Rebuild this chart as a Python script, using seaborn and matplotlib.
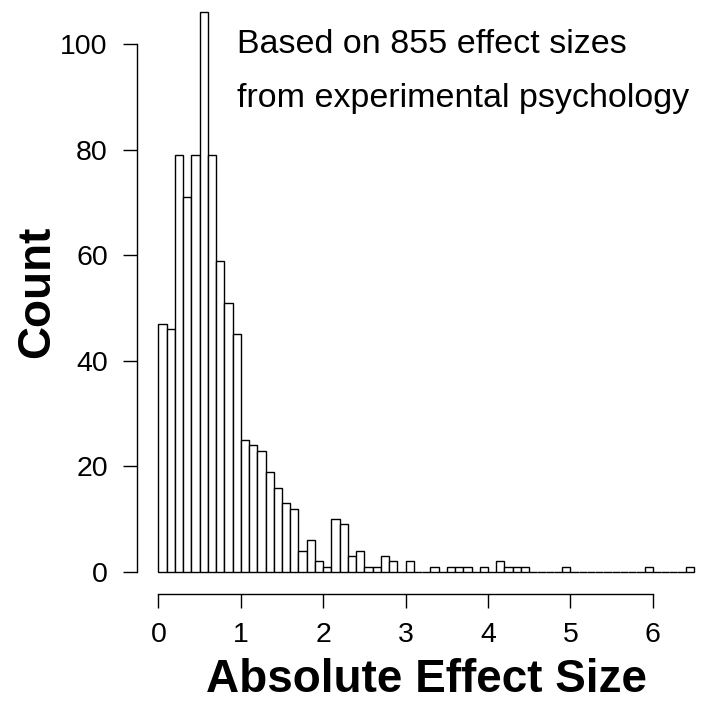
import numpy as np
import pandas as pd
import matplotlib
matplotlib.use("Agg")
import matplotlib.pyplot as plt
import seaborn as sns

# Histogram counts per 0.1-wide bin, from 0 to 6.5
counts = [47, 46, 79, 71, 79, 106, 79, 59, 51, 45,
          25, 24, 23, 19, 16, 13, 12, 4, 6, 2,
          1, 10, 9, 3, 4, 1, 1, 3, 2, 0,
          2, 0, 0, 1, 0, 1, 1, 1, 0, 1,
          0, 2, 1, 1, 1, 0, 0, 0, 0, 1,
          0, 0, 0, 0, 0, 0, 0, 0, 0, 1,
          0, 0, 0, 0, 1]
bin_width = 0.1
x_ticks = [0, 1, 2, 3, 4, 5, 6]
y_ticks = [0, 20, 40, 60, 80, 100]
annotation = ["Based on 855 effect sizes", "from experimental psychology"]

edges = np.round(np.arange(len(counts) + 1) * bin_width, 2)
centers = (edges[:-1] + edges[1:]) / 2
df = pd.DataFrame({"effect": centers, "n": np.array(counts, dtype=float)})

sns.set_style("white")
plt.rcParams["font.family"] = ["Liberation Sans", "DejaVu Sans"]
plt.rcParams["text.color"] = "black"
plt.rcParams["axes.labelcolor"] = "black"

W, H = 703, 704
fig = plt.figure(figsize=(W / 100, H / 100), dpi=100)
left_px, right_px, top_px, bottom_px = 137, 715.4, -10, 594.4
ax = fig.add_axes([left_px / W, (H - bottom_px) / H,
                   (right_px - left_px) / W, (bottom_px - top_px) / H])
ax.patch.set_alpha(0)

sns.histplot(data=df, x="effect", weights="n", bins=edges.tolist(), stat="count",
             color="white", edgecolor="black", linewidth=1.0, alpha=1,
             ax=ax)
for p in ax.patches:
    p.set_clip_on(False)

ax.set_xlim(-0.26, 6.76)
ax.set_ylim(-4.24, 110.24)

for s in ["top", "right"]:
    ax.spines[s].set_visible(False)
ax.spines["left"].set_bounds(0, 100)
ax.spines["bottom"].set_bounds(0, 6)
for s in ["left", "bottom"]:
    ax.spines[s].set_linewidth(1.0)
    ax.spines[s].set_color("black")

ax.set_xticks(x_ticks)
ax.set_yticks(y_ticks)
ax.set_xticklabels([str(t) for t in x_ticks])
ax.set_yticklabels([str(t) for t in y_ticks])
ax.tick_params(axis="both", which="major", direction="out", length=10,
               width=1.0, color="black", labelsize=20.5, labelcolor="black",
               bottom=True, left=True)
ax.tick_params(axis="x", pad=10)
ax.tick_params(axis="y", pad=11)

plot_h = bottom_px - top_px
ax.set_xlabel("Absolute Effect Size", fontsize=33, fontweight="bold")
ax.xaxis.label.set_verticalalignment("baseline")
ax.xaxis.set_label_coords(0.5, (bottom_px - 692) / plot_h)
ax.set_ylabel("Count", fontsize=33, fontweight="bold")
ax.yaxis.set_label_coords((59 - left_px) / (right_px - left_px), 0.5)

fig.text(237 / W, 1 - 53 / H, annotation[0], fontsize=24.5, ha="left", va="baseline")
fig.text(237 / W, 1 - 107 / H, annotation[1], fontsize=24.5, ha="left", va="baseline")

fig.savefig("out.png", dpi=100)
